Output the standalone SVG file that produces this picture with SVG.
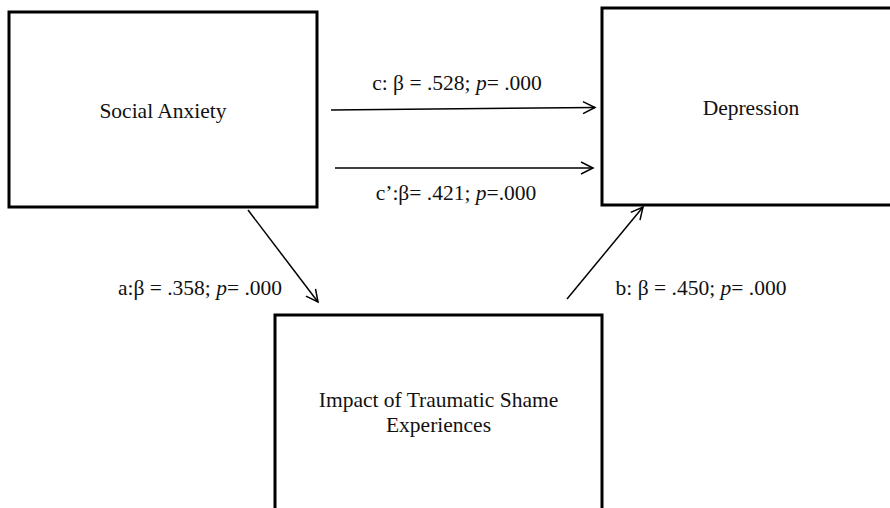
<svg xmlns="http://www.w3.org/2000/svg" width="890" height="508" viewBox="0 0 890 508">
<style>
.box{fill:#fff;stroke:#000;stroke-width:3}
.t{font-family:"Liberation Serif","Times New Roman",serif;font-size:21.5px;fill:#111}
.ln{stroke:#000;stroke-width:1.5;fill:none;marker-end:url(#ah)}
</style>
<defs>
<marker id="ah" markerUnits="userSpaceOnUse" markerWidth="16" markerHeight="16" refX="13" refY="7" orient="auto">
<path d="M1,1 L13,7 L1,13" fill="none" stroke="#000" stroke-width="1.5"/>
</marker>
</defs>
<rect width="890" height="508" fill="#fff"/>
<g id="social-anxiety">
<rect class="box" x="9" y="12" width="308" height="195"/>
<text class="t" x="163" y="118" text-anchor="middle">Social Anxiety</text>
</g>
<g id="depression">
<rect class="box" x="602" y="8" width="300" height="197"/>
<text class="t" x="751" y="115" text-anchor="middle">Depression</text>
</g>
<g id="impact">
<rect class="box" x="275" y="315" width="327" height="200"/>
<text class="t" x="438.5" y="407" text-anchor="middle">Impact of Traumatic Shame</text>
<text class="t" x="438.5" y="432" text-anchor="middle">Experiences</text>
</g>
<g id="connectors">
<line class="ln" x1="331" y1="110" x2="595" y2="107.5"/>
<line class="ln" x1="335" y1="168" x2="593" y2="168"/>
<line class="ln" x1="248" y1="210" x2="318" y2="302"/>
<line class="ln" x1="567" y1="299" x2="643" y2="207"/>
<text class="t" x="457" y="90" text-anchor="middle">c: β = .528; <tspan font-style="italic">p</tspan>= .000</text>
<text class="t" x="456" y="200" text-anchor="middle">c’:β= .421; <tspan font-style="italic">p</tspan>=.000</text>
<text class="t" x="200" y="295" text-anchor="middle">a:β = .358; <tspan font-style="italic">p</tspan>= .000</text>
<text class="t" x="701" y="295" text-anchor="middle">b: β = .450; <tspan font-style="italic">p</tspan>= .000</text>
</g>
</svg>
